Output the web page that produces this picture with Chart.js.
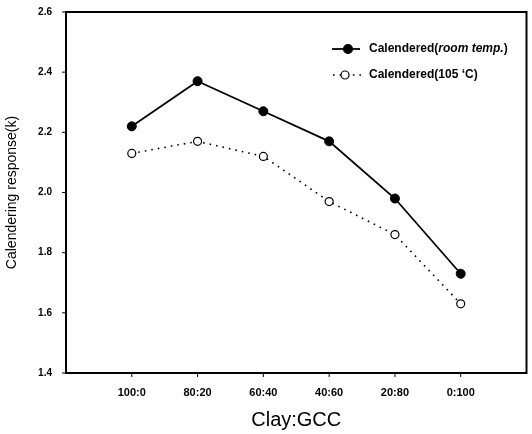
<!DOCTYPE html>
<html><head><meta charset="utf-8">
<script src="https://cdn.jsdelivr.net/npm/chart.js@4/dist/chart.umd.min.js"></script>
<style>html,body{margin:0;padding:0;background:#fff}#wrap{width:532px;height:434px}</style>
</head><body><div id="wrap"><canvas id="c" width="532" height="434"></canvas></div>
<script>
const categories = ['100:0','80:20','60:40','40:60','20:80','0:100'];
const roomTemp = [2.22, 2.37, 2.27, 2.17, 1.98, 1.73];
const temp105 = [2.13, 2.17, 2.12, 1.97, 1.86, 1.63];
const yTicks = [1.4, 1.6, 1.8, 2.0, 2.2, 2.4, 2.6];
const seriesNames = ['Calendered(room temp.)', 'Calendered(105 \u2018C)'];

const FONT = '"Liberation Sans", Arial, sans-serif';
const toXY = arr => arr.map((v,i)=>({x:i+1,y:v}));

const framePlugin = {
  id:'frame',
  afterDraw(chart){
    const {ctx, chartArea:a, scales} = chart;
    ctx.save();
    ctx.strokeStyle='#000';
    ctx.lineWidth=2;
    ctx.strokeRect(a.left, a.top, a.right-a.left, a.bottom-a.top);
    ctx.lineWidth=1;
    categories.forEach((c,i)=>{
      const x = scales.x.getPixelForValue(i+1);
      ctx.beginPath(); ctx.moveTo(x, a.bottom); ctx.lineTo(x, a.bottom+4); ctx.stroke();
    });
    yTicks.forEach(v=>{
      const y = scales.y.getPixelForValue(v);
      ctx.beginPath(); ctx.moveTo(a.left, y); ctx.lineTo(a.left-4, y); ctx.stroke();
    });
    // legend
    const items = chart.data.datasets;
    const lines = [[332,360,348,49],[333,362,345,75]];
    const tx = 369;
    items.forEach((ds, k)=>{
      const [x0,x1,mx,y] = lines[k];
      ctx.strokeStyle='#000';
      ctx.lineWidth = ds.borderWidth;
      ctx.setLineDash(ds.borderDash || []);
      ctx.beginPath(); ctx.moveTo(x0, y); ctx.lineTo(x1, y); ctx.stroke();
      ctx.setLineDash([]);
      ctx.lineWidth=1.2;
      ctx.beginPath(); ctx.arc(mx, y, ds.pointRadius, 0, Math.PI*2);
      ctx.fillStyle = ds.pointBackgroundColor; ctx.fill(); ctx.stroke();
      ctx.fillStyle='#000';
      ctx.textBaseline='middle';
      ctx.textAlign='left';
      // label: italic inside parentheses when it is a text note
      const label = ds.label;
      const m = label.match(/^(.*\()([a-z .]+)(\))$/);
      let x = tx;
      const segs = m ? [[m[1],''],[m[2],'italic '],[m[3],'']] : [[label,'']];
      segs.forEach(([t,st])=>{
        ctx.font = st + 'bold 12px ' + FONT;
        ctx.fillText(t, x, y);
        x += ctx.measureText(t).width;
      });
    });
    ctx.restore();
  }
};

new Chart(document.getElementById('c'), {
  type:'line',
  data:{
    datasets:[
      {label:seriesNames[0], data:toXY(roomTemp), borderColor:'#000', borderWidth:1.8,
       pointBackgroundColor:'#000', pointBorderColor:'#000', pointRadius:4.5, pointBorderWidth:1, tension:0},
      {label:seriesNames[1], data:toXY(temp105), borderColor:'#000', borderWidth:1.6, borderDash:[1.6,5],
       pointBackgroundColor:'#fff', pointBorderColor:'#000', pointRadius:4, pointBorderWidth:1.2, tension:0}
    ]
  },
  options:{
    responsive:false, animation:false,
    layout:{padding:{top:10, right:1, left:0, bottom:2}},
    plugins:{legend:{display:false}, tooltip:{enabled:false}},
    scales:{
      x:{type:'linear', min:0, max:7,
        afterBuildTicks(s){ s.ticks = categories.map((c,i)=>({value:i+1})); },
        afterFit(s){ s.height = 59; },
        grid:{display:false}, border:{display:false},
        ticks:{color:'#000', font:{family:FONT, size:11, weight:'bold'}, padding:5, maxRotation:0,
          callback:(v)=>categories[v-1] ?? ''},
        title:{display:true, text:'Clay:GCC', color:'#000', font:{family:FONT, size:20}, padding:0}
      },
      y:{min:1.4, max:2.6,
        afterBuildTicks(s){ s.ticks = yTicks.map(v=>({value:v})); },
        afterFit(s){ s.width = 66; },
        grid:{display:false}, border:{display:false},
        ticks:{color:'#000', font:{family:FONT, size:10, weight:'bold'}, padding:6,
          callback:(v)=>Number(v).toFixed(1)},
        title:{display:true, text:'Calendering response(k)', color:'#000', font:{family:FONT, size:14}, padding:{bottom:4}}
      }
    }
  },
  plugins:[framePlugin]
});
</script></body></html>
